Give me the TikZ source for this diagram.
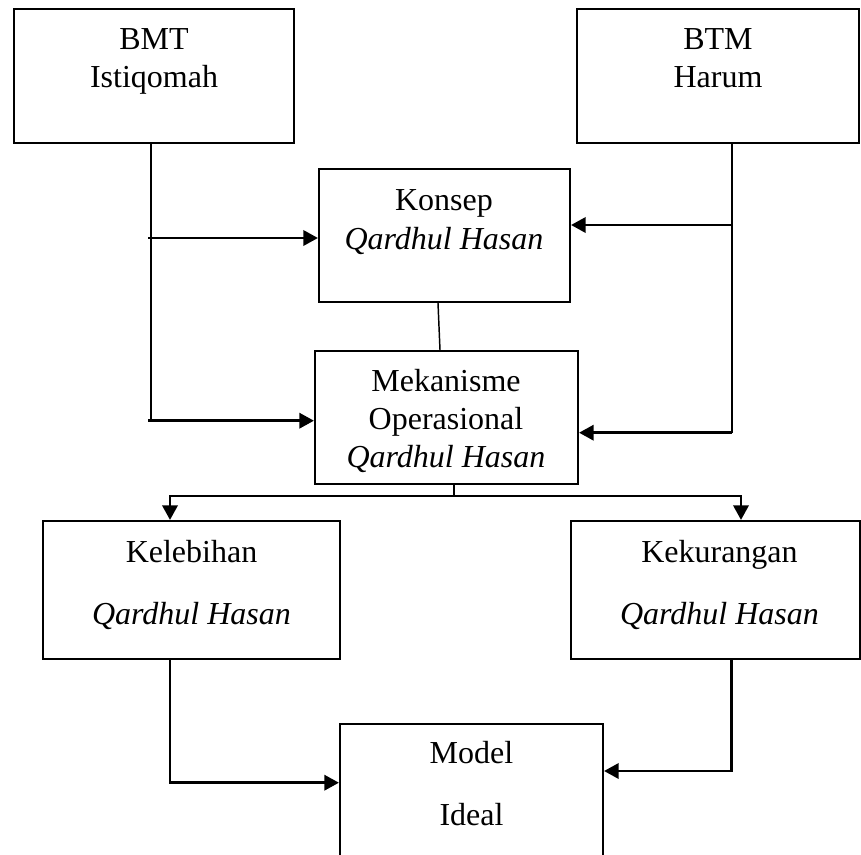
\documentclass[tikz,border=0pt]{standalone}
\usepackage{fontspec}
\setmainfont{Liberation Serif}
\usetikzlibrary{arrows.meta,calc}
\begin{document}
\begin{tikzpicture}[x=0.75pt,y=-0.75pt,
  box/.style={draw,line width=1.6pt,inner sep=0pt,rectangle},
  txt/.style={anchor=base,inner sep=0pt,font=\fontsize{24}{28}\selectfont},
  line/.style={line width=2pt},
  arr/.style={line width=2pt,-{Triangle[length=11pt,width=11.5pt]}},
  thinline/.style={line width=1.1pt}]
\useasboundingbox (0,0) rectangle (861,854);
\clip (0,0) rectangle (861,854);
% boxes
\node[box,minimum width=280*0.75pt,minimum height=134*0.75pt] (bmt) at (154,76) {};
\node[box,minimum width=282*0.75pt,minimum height=134*0.75pt] (btm) at (718,76) {};
\node[box,minimum width=251*0.75pt,minimum height=133*0.75pt] (konsep) at (444.5,235.5) {};
\node[box,minimum width=263*0.75pt,minimum height=133*0.75pt] (mek) at (446.5,417.5) {};
\node[box,minimum width=297*0.75pt,minimum height=138*0.75pt] (kel) at (191.5,590) {};
\node[box,minimum width=289*0.75pt,minimum height=138*0.75pt] (kek) at (715.5,590) {};
\node[box,minimum width=263*0.75pt,minimum height=160*0.75pt] (model) at (471.5,804) {};
% texts
\node[txt] (t1) at (154,49) {BMT};
\node[txt] (t2) at (154,87) {Istiqomah};
\node[txt] (t3) at (718,49) {BTM};
\node[txt] (t4) at (718,87) {Harum};
\node[txt] (t5) at (444,210) {Konsep};
\node[txt] (t6) at (444,249) {\itshape Qardhul Hasan};
\node[txt] (t7) at (446,391) {Mekanisme};
\node[txt] (t8) at (446,429) {Operasional};
\node[txt] (t9) at (446,467) {\itshape Qardhul Hasan};
\node[txt] (t10) at (191.5,562) {Kelebihan};
\node[txt] (t11) at (191.5,624) {\itshape Qardhul Hasan};
\node[txt] (t12) at (719.5,562) {Kekurangan};
\node[txt] (t13) at (719.5,624) {\itshape Qardhul Hasan};
\node[txt] (t14) at (471.5,763) {Model};
\node[txt] (t15) at (471.5,825) {Ideal};
% left trunk
\coordinate (bl) at (151,420.7);
\coordinate (bk) at (148,238);
\draw[line] (bmt.south -| bl) -- (bl);
\draw[arr] ([xshift=-2.25pt]bl) -- (bl -| mek.west);
\draw[arr] (bk) -- (bk -| konsep.west);
% right trunk
\coordinate (br) at (732,432.7);
\coordinate (bk2) at (732,225);
\draw[line] (btm.south -| br) -- (br);
\draw[arr] (br) -- (br -| mek.east);
\draw[arr] (bk2) -- (bk2 -| konsep.east);
% konsep to mekanisme
\draw[thinline] ($(konsep.south)+(-6.5,0)$) -- ($(mek.north)+(-6.5,0)$);
% split
\coordinate (sp) at (454,496);
\coordinate (kl) at (170,496);
\coordinate (kr) at (741,496);
\draw[line] (mek.south -| sp) -- (sp);
\draw[arr] (sp) -- (kl) -- (kl |- kel.north);
\draw[arr] (sp) -- (kr) -- (kr |- kek.north);
% bottom
\coordinate (ml) at (170,782.7);
\coordinate (mr) at (731.5,771);
\draw[arr] (kel.south -| ml) -- (ml) -- (ml -| model.west);
\draw[arr] (kek.south -| mr) -- (mr) -- (mr -| model.east);
\end{tikzpicture}
\end{document}
